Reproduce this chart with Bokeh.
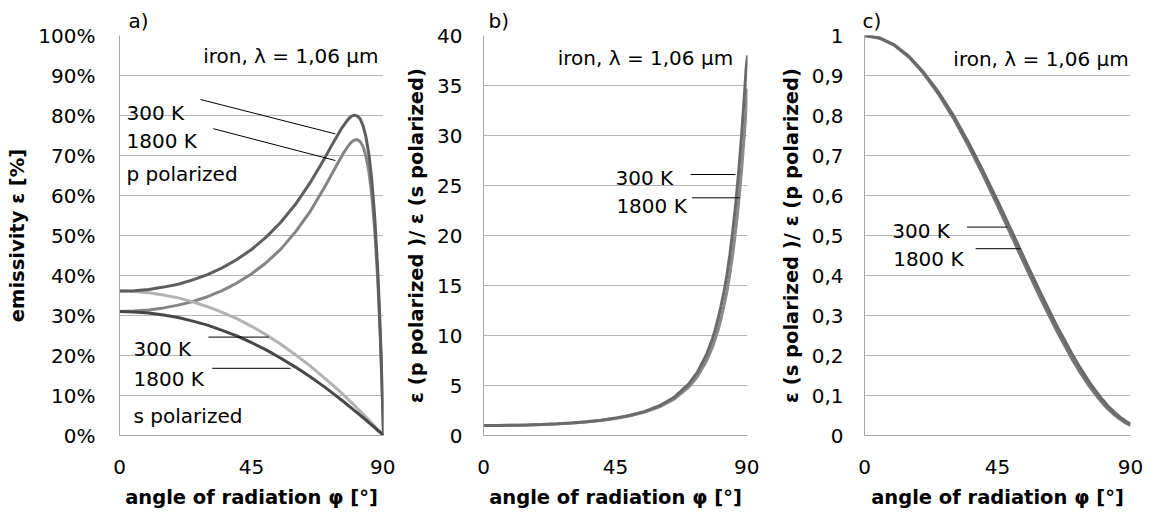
from bokeh.plotting import figure
from bokeh.layouts import row
from bokeh.models import Range1d, FixedTicker, PrintfTickFormatter, CustomJSTickFormatter, Label
from bokeh.embed import file_html
from bokeh.resources import INLINE

# ---------------- data ----------------
angle = [0, 5, 10, 15, 20, 25, 30, 35, 40, 45, 50, 55, 60, 65, 70, 73, 76, 78, 79, 80,
         81, 82, 83, 84, 85, 86, 87, 88, 88.5, 89, 89.5, 90]

eps_p_300 = [36.1, 36.2, 36.5, 37.1, 37.8, 38.9, 40.2, 41.9, 44.0, 46.5, 49.6, 53.3, 57.8, 63.2, 69.4,
             73.4, 77.1, 79.1, 79.8, 80.1, 79.9, 79.2, 77.5, 74.7, 70.4, 64.0, 54.7, 41.8, 33.5, 24.0,
             12.8, 0.0]
eps_p_1800 = [31.0, 31.1, 31.4, 31.9, 32.6, 33.5, 34.7, 36.2, 38.1, 40.4, 43.2, 46.6, 50.9, 56.0, 62.2,
              66.2, 70.2, 72.4, 73.3, 73.8, 74.0, 73.5, 72.3, 69.9, 66.1, 60.1, 51.5, 39.3, 31.5, 22.5,
              12.0, 0.0]
eps_s_300 = [36.1, 36.0, 35.7, 35.1, 34.4, 33.4, 32.2, 30.8, 29.2, 27.3, 25.2, 22.8, 20.2, 17.4, 14.3,
             12.4, 10.4, 9.0, 8.3, 7.6, 6.8, 6.1, 5.4, 4.6, 3.9, 3.1, 2.3, 1.6, 1.2, 0.8, 0.4, 0.0]
eps_s_1800 = [31.0, 30.9, 30.6, 30.1, 29.5, 28.6, 27.6, 26.3, 24.9, 23.2, 21.4, 19.3, 17.1, 14.7, 12.1,
              10.4, 8.7, 7.5, 6.9, 6.3, 5.7, 5.1, 4.5, 3.9, 3.2, 2.6, 2.0, 1.3, 1.0, 0.7, 0.3, 0.0]

ratio_ps_300 = [1.00, 1.01, 1.02, 1.06, 1.10, 1.16, 1.25, 1.36, 1.51, 1.71, 1.97, 2.34, 2.86, 3.63, 4.84,
                5.92, 7.44, 8.81, 9.64, 10.6, 11.7, 13.0, 14.4, 16.2, 18.2, 20.6, 23.4, 26.6, 28.5, 30.4,
                32.5, 34.7]
ratio_ps_1800 = [1.00, 1.01, 1.02, 1.06, 1.11, 1.17, 1.26, 1.38, 1.53, 1.74, 2.02, 2.41, 2.98, 3.82, 5.16,
                 6.37, 8.08, 9.63, 10.6, 11.7, 13.0, 14.4, 16.1, 18.1, 20.5, 23.2, 26.4, 30.1, 32.2, 34.3,
                 36.6, 38.0]

ratio_sp_300 = [1.000, 0.994, 0.977, 0.948, 0.908, 0.859, 0.801, 0.735, 0.663, 0.587, 0.508, 0.428, 0.350,
                0.275, 0.207, 0.169, 0.134, 0.114, 0.104, 0.094, 0.086, 0.077, 0.069, 0.062, 0.055, 0.049,
                0.043, 0.038, 0.035, 0.033, 0.031, 0.029]
ratio_sp_1800 = [1.000, 0.994, 0.976, 0.946, 0.905, 0.854, 0.794, 0.726, 0.653, 0.575, 0.495, 0.414, 0.336,
                 0.262, 0.194, 0.157, 0.124, 0.104, 0.095, 0.086, 0.077, 0.069, 0.062, 0.055, 0.049, 0.043,
                 0.038, 0.033, 0.031, 0.029, 0.027, 0.026]

x_ticks = [0, 45, 90]
y_ticks_a = [0, 10, 20, 30, 40, 50, 60, 70, 80, 90, 100]
y_ticks_b = [0, 5, 10, 15, 20, 25, 30, 35, 40]
y_ticks_c = [0, 0.1, 0.2, 0.3, 0.4, 0.5, 0.6, 0.7, 0.8, 0.9, 1.0]

FONT = "DejaVu Sans"
TXT = "20px"
TITLE = "19.5px"
GRID = "#b4b4b4"


def make_fig(y_end, frame_w, left, right, yticks, ylabel, ystand, tag, tag_offset):
    p = figure(frame_width=frame_w, frame_height=400,
               x_range=Range1d(0, 90), y_range=Range1d(0, y_end),
               output_backend="svg", toolbar_location=None,
               min_border_left=left, min_border_right=right,
               min_border_top=35, min_border_bottom=73)
    p.outline_line_color = None
    p.background_fill_color = "white"
    p.border_fill_color = "white"
    p.title.text = tag
    p.title.align = "left"
    p.title.offset = tag_offset
    p.title.standoff = 6
    p.title.text_font = FONT
    p.title.text_font_size = TXT
    p.title.text_font_style = "normal"
    p.title.text_color = "black"
    p.xgrid.visible = False
    p.ygrid.grid_line_color = GRID
    p.ygrid.grid_line_width = 1
    for ax in (p.xaxis[0], p.yaxis[0]):
        ax.major_tick_in = 0
        ax.major_tick_out = 0
        ax.minor_tick_in = 0
        ax.minor_tick_out = 0
        ax.major_tick_line_color = None
        ax.minor_tick_line_color = None
        ax.axis_line_color = "#a6a6a6"
        ax.major_label_text_font = FONT
        ax.major_label_text_font_size = TXT
        ax.major_label_text_color = "black"
        ax.axis_label_text_font = FONT
        ax.axis_label_text_font_style = "bold"
        ax.axis_label_text_font_size = TITLE
        ax.axis_label_text_color = "black"
    p.xaxis.ticker = FixedTicker(ticks=x_ticks)
    p.xaxis.axis_label = "angle of radiation φ [°]"
    p.xaxis.major_label_standoff = 24
    p.xaxis.axis_label_standoff = 9
    p.yaxis.ticker = FixedTicker(ticks=yticks)
    p.yaxis.axis_label = ylabel
    p.yaxis.major_label_standoff = ystand
    p.yaxis.axis_label_standoff = 6
    return p


def add_text(p, x, y, text, align="left"):
    p.add_layout(Label(x=x, y=y, text=text, text_font=FONT, text_font_size=TXT,
                       text_color="black", text_align=align, text_baseline="alphabetic"))


# ---------------- panel a ----------------
pa = make_fig(100, 264, 119, 12, y_ticks_a, "emissivity ε [%]", 24, "a)", 9)
pa.yaxis.formatter = PrintfTickFormatter(format="%d%%")
pa.line(angle, eps_p_1800, line_color="#858585", line_width=3)
pa.line(angle, eps_s_300, line_color="#b2b2b2", line_width=3)
pa.line(angle, eps_p_300, line_color="#5e5e5e", line_width=3)
pa.line(angle, eps_s_1800, line_color="#484848", line_width=3)
pa.segment(x0=[27.6, 32.0, 30.3, 31.6], y0=[84.0, 76.7, 24.6, 16.8],
           x1=[73.6, 73.6, 50.9, 58.3], y1=[75.4, 68.75, 24.6, 16.8],
           line_color="black", line_width=1)
add_text(pa, 2.4, 80.75, "300 K")
add_text(pa, 2.4, 73.75, "1800 K")
add_text(pa, 2.4, 65.5, "p polarized")
add_text(pa, 4.8, 21.75, "300 K")
add_text(pa, 4.8, 14.25, "1800 K")
add_text(pa, 4.8, 5.0, "s polarized")
add_text(pa, 88.3, 95.0, "iron, λ = 1,06 µm", "right")

# ---------------- panel b ----------------
pb = make_fig(40, 264, 88, 12, y_ticks_b, "ε (p polarized )/ ε (s polarized)", 21, "b)", 5)
pb.line(angle, ratio_ps_300, line_color="#8a8a8a", line_width=3)
pb.line(angle, ratio_ps_1800, line_color="#6a6a6a", line_width=3)
pb.segment(x0=[70.6, 71.1], y0=[26.1, 23.77], x1=[85.9, 87.4], y1=[26.1, 23.77],
           line_color="black", line_width=1)
add_text(pb, 45.0, 25.8, "300 K")
add_text(pb, 45.3, 23.0, "1800 K")
add_text(pb, 85.1, 37.8, "iron, λ = 1,06 µm", "right")

# ---------------- panel c ----------------
pc = make_fig(1, 266, 105, 16, y_ticks_c, "ε (s polarized )/ ε (p polarized)", 21, "c)", -2)
pc.yaxis.formatter = CustomJSTickFormatter(
    code="const s = (Math.round(tick * 10) / 10).toString(); return s.replace('.', ',');")
pc.line(angle, ratio_sp_1800, line_color="#767676", line_width=3)
pc.line(angle, ratio_sp_300, line_color="#6a6a6a", line_width=3)
pc.segment(x0=[34.7, 37.6], y0=[0.521, 0.467], x1=[48.3, 52.8], y1=[0.521, 0.467],
           line_color="black", line_width=1)
add_text(pc, 9.4, 0.5125, "300 K")
add_text(pc, 9.7, 0.4417, "1800 K")
add_text(pc, 89.4, 0.942, "iron, λ = 1,06 µm", "right")

layout = row(pa, pb, pc)
open("out.html", "w").write(file_html(layout, INLINE))
